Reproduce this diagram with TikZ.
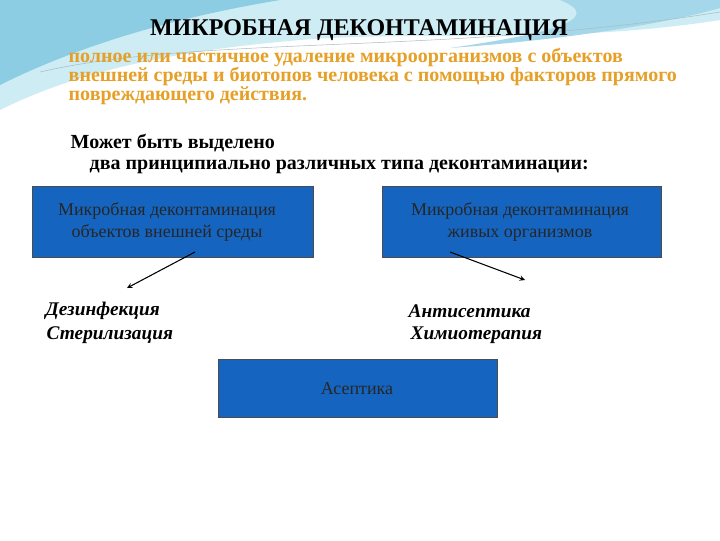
\documentclass[tikz,border=0pt]{standalone}
\usepackage{fontspec}
\setmainfont{Liberation Serif}
\begin{document}
\begin{tikzpicture}[x=0.75pt,y=-0.75pt,
  bluebox/.style={draw=black!70,fill=boxblue,line width=0.8pt,anchor=north west},
  boxtxt/.style={font=\fontsize{13.5}{16}\selectfont,text=black!85,align=center},
  orange/.style={font=\bfseries\fontsize{15}{18}\selectfont,text=orangetxt,anchor=west},
  blk/.style={font=\bfseries\fontsize{15}{18}\selectfont,anchor=west},
  ital/.style={font=\bfseries\itshape\fontsize{14.5}{17}\selectfont,anchor=west},
  arr/.style={-stealth,line width=0.8pt}]
\definecolor{boxblue}{RGB}{21,101,192}
\definecolor{orangetxt}{RGB}{230,160,40}
\definecolor{sw1}{RGB}{140,205,228}
\definecolor{sw2}{RGB}{205,236,244}
\useasboundingbox (0,0) rectangle (720,540);
\fill[white] (0,0) rectangle (720,540);
% decorative swoosh
\fill[sw2] (0,0) -- (720,0) -- (720,20) .. controls (560,45) and (420,30) .. (300,40) .. controls (180,50) and (80,70) .. (0,110) -- cycle;
\fill[sw1] (0,0) -- (280,0) .. controls (190,15) and (90,40) .. (0,85) -- cycle;
\fill[sw1!80] (560,0) -- (720,0) -- (720,8) .. controls (660,25) and (560,40) .. (450,48) .. controls (540,35) and (610,20) .. (560,0) -- cycle;
\draw[sw1!60!black!50,line width=0.4pt] (40,72) .. controls (200,35) and (450,55) .. (720,12);
% title and texts
\node[font=\bfseries\fontsize{18}{21}\selectfont] (title) at (359,30) {МИКРОБНАЯ ДЕКОНТАМИНАЦИЯ};
\node[orange] (o1) at (64,57) {полное или частичное удаление микроорганизмов с объектов};
\node[orange] (o2) at (64,76) {внешней среды и биотопов человека с помощью факторов прямого};
\node[orange] (o3) at (64,96) {повреждающего действия.};
\node[blk] (m1) at (66,143) {Может быть выделено};
\node[blk] (m2) at (85,167) {два принципиально различных типа деконтаминации:};
% boxes
\node[bluebox,minimum width=281*0.75pt,minimum height=71*0.75pt] (b1) at (32,186) {};
\node[boxtxt] (t1) at (167,222) {Микробная деконтаминация\\объектов внешней среды};
\node[bluebox,minimum width=279*0.75pt,minimum height=71*0.75pt] (b2) at (382,186) {};
\node[boxtxt] (t2) at (520,222) {Микробная деконтаминация\\живых организмов};
\node[bluebox,minimum width=279*0.75pt,minimum height=58*0.75pt] (b3) at (218,359) {};
\node[boxtxt] (t3) at (357,389) {Асептика};
% arrows
\coordinate (a1s) at (195,252); \coordinate (a1e) at (127,288);
\coordinate (a2s) at (450,252); \coordinate (a2e) at (525,280);
\draw[arr] (a1s) -- (a1e);
\draw[arr] (a2s) -- (a2e);
% italics
\node[ital] (d1) at (41,311) {Дезинфекция};
\node[ital] (d2) at (42,335) {Стерилизация};
\node[ital] (d3) at (404,311) {Антисептика};
\node[ital] (d4) at (406,335) {Химиотерапия};
\end{tikzpicture}
\end{document}
